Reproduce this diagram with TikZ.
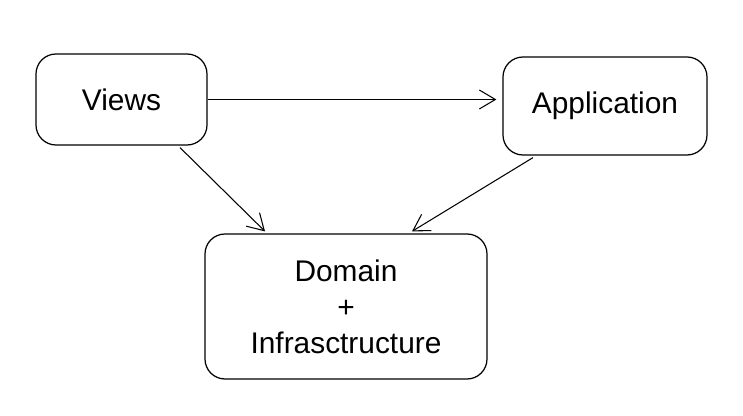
\documentclass[tikz,border=0pt]{standalone}
\usepackage{fontspec}
\setmainfont{Liberation Sans}
\usetikzlibrary{arrows.meta}
\begin{document}
\begin{tikzpicture}[
		box/.style={draw,line width=0.7pt,rounded corners=0.4cm,align=center,inner sep=0pt,font=\fontsize{17}{20.5}\selectfont},
		link/.style={draw,line width=0.6pt,-{Straight Barb[length=0.32cm,width=0.38cm,line width=0.6pt]}}
	]
	\useasboundingbox (0,0) rectangle (14.86,8.32);
	\node[box,minimum width=3.42cm,minimum height=1.82cm] (views) at (2.43,6.33) {Views};
	\node[box,minimum width=4.08cm,minimum height=1.96cm] (app) at (12.10,6.20) {Application};
	\node[box,minimum width=5.64cm,minimum height=2.90cm] (domain) at (6.92,2.19) {Domain\\+\\Infrasctructure};
	\draw[link,shorten >=0.12cm] (views.east) -- (views.east -| app.west);
	\draw[link] ([xshift=1.17cm,yshift=-0.04cm]views.south) -- ([xshift=-1.62cm,yshift=0.04cm]domain.north);
	\draw[link] ([xshift=-1.44cm,yshift=-0.04cm]app.south) -- ([xshift=1.32cm,yshift=0.04cm]domain.north);
\end{tikzpicture}
\end{document}
